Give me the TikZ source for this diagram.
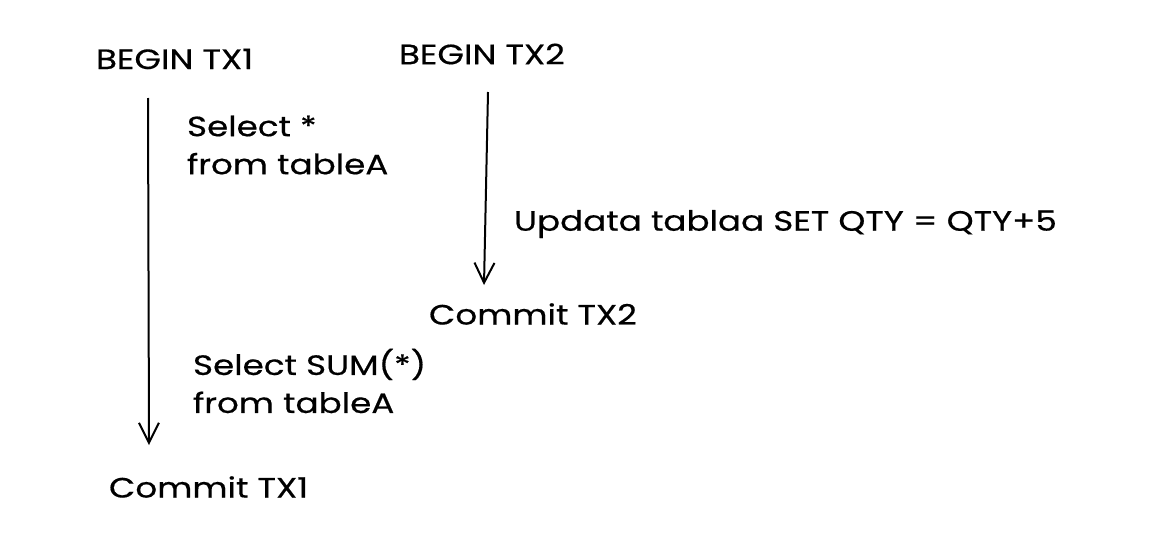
\documentclass[tikz,border=0pt]{standalone}
\usepackage{fontspec}
\setmainfont{Poppins}[FakeStretch=1.22,FakeBold=0.5]
\usetikzlibrary{arrows.meta}

\begin{document}
\begin{tikzpicture}[x=1pt,y=-1pt,line width=2pt,
  >={Straight Barb[length=20pt,width=20pt,line width=2pt]},
  lbl/.style={anchor=west,inner sep=0pt,font=\fontsize{28}{38}\selectfont},
  step2/.style={lbl,align=left}]

\useasboundingbox (0,0) rectangle (1156,538);

% two transactions
\node[lbl] (b1) at (95,59) {BEGIN TX1};
\node[lbl] (b2) at (398,54) {BEGIN TX2};

\coordinate (s1) at (148,98);
\coordinate (e1) at (149,445);
\coordinate (s2) at (488,92);
\coordinate (e2) at (484,285);

\draw[->] (s1) -- (e1);
\draw[->] (s2) -- (e2);

\node[step2] (q1) at (186,145) {Select *\\from tableA};
\node[lbl] (u2) at (513,224) {Updata tablaa SET QTY = QTY+5};
\node[lbl] (c2) at (428,314) {Commit TX2};
\node[step2] (q2) at (192,381) {Select SUM(*)\\from tableA};
\node[lbl] (c1) at (108,487) {Commit TX1};

\end{tikzpicture}
\end{document}
